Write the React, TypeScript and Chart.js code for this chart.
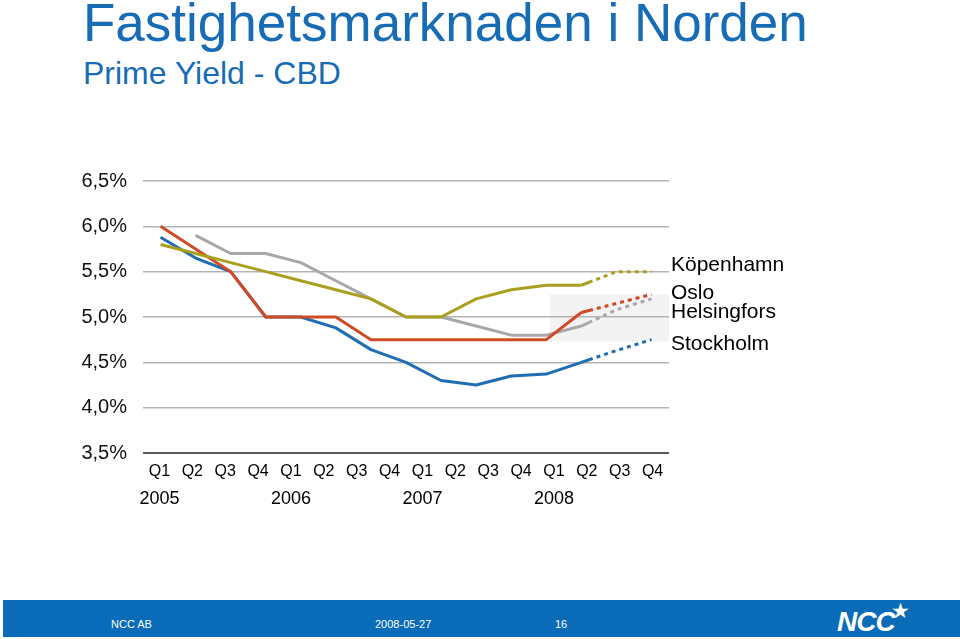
import React, { useEffect, useRef } from 'react';
import { Chart, registerables } from 'chart.js';

Chart.register(...registerables);

// ---- data ----
const periods = [
  'Q1 2005', 'Q2 2005', 'Q3 2005', 'Q4 2005',
  'Q1 2006', 'Q2 2006', 'Q3 2006', 'Q4 2006',
  'Q1 2007', 'Q2 2007', 'Q3 2007', 'Q4 2007',
  'Q1 2008', 'Q2 2008', 'Q3 2008',
];
const quarterLabels = [
  'Q1', 'Q2', 'Q3', 'Q4', 'Q1', 'Q2', 'Q3', 'Q4',
  'Q1', 'Q2', 'Q3', 'Q4', 'Q1', 'Q2', 'Q3', 'Q4',
];
const yearLabels = [
  '2005', '', '', '', '2006', '', '', '',
  '2007', '', '', '', '2008', '', '', '',
];
const seriesNames = ['Köpenhamn', 'Oslo', 'Helsingfors', 'Stockholm'];
const kopenhamn = [5.8, 5.7, 5.6, 5.5, 5.4, 5.3, 5.2, 5.0, 5.0, 5.2, 5.3, 5.35, 5.35, 5.5, 5.5];
const oslo = [6.0, 5.75, 5.5, 5.0, 5.0, 5.0, 4.75, 4.75, 4.75, 4.75, 4.75, 4.75, 5.05, 5.15, 5.25];
const helsingfors = [null, 5.9, 5.7, 5.7, 5.6, 5.4, 5.2, 5.0, 5.0, 4.9, 4.8, 4.8, 4.9, 5.08, 5.2];
const stockholm = [5.88, 5.65, 5.5, 5.0, 5.0, 4.88, 4.64, 4.5, 4.3, 4.25, 4.35, 4.37, 4.5, 4.63, 4.75];
const forecastFromIndex = 12;
const yMin = 3.5;
const yMax = 6.5;
const yStep = 0.5;

// ---- styles ----
const FONT = '"Liberation Sans", Arial, Helvetica, sans-serif';
const COLORS = ['#aa9f1f', '#cf4b26', '#a8a8a8', '#1f6db2'];
const LABEL_OFFSETS = [-6, -1, 13, 5];
const FORECAST_DASH = [12, 4, 4, 4, 4, 4, 4, 4, 4, 4, 4, 4, 4, 4, 4, 4, 4, 4];
const BLUE = '#176cb6';

const endLabels = {
  id: 'endLabels',
  afterDatasetsDraw(chart: any) {
    const { ctx, chartArea, scales } = chart;
    ctx.save();
    ctx.font = `21px ${FONT}`;
    ctx.fillStyle = '#000';
    ctx.textBaseline = 'middle';
    ctx.textAlign = 'left';
    chart.data.datasets.forEach((ds: any, i: number) => {
      const last = ds.data[ds.data.length - 1];
      const y = scales.y.getPixelForValue(last) + LABEL_OFFSETS[i];
      ctx.fillText(ds.label, chartArea.right + 2, y);
    });
    ctx.restore();
  },
};

const faintBox = {
  id: 'faintBox',
  beforeDraw(chart: any) {
    const { ctx, chartArea, scales } = chart;
    const x0 = scales.x.getPixelForValue(11.1);
    const y0 = scales.y.getPixelForValue(5.25);
    const y1 = scales.y.getPixelForValue(4.73);
    ctx.save();
    ctx.fillStyle = '#f3f3f3';
    ctx.fillRect(x0, y0, chartArea.right - x0, y1 - y0);
    ctx.restore();
  },
};

export default function App() {
  const ref = useRef<HTMLCanvasElement>(null);

  useEffect(() => {
    document.body.style.margin = '0';
    const series = [kopenhamn, oslo, helsingfors, stockholm];
    const chart = new Chart(ref.current as HTMLCanvasElement, {
      type: 'line',
      data: {
        labels: periods,
        datasets: series.map((d, i) => ({
          label: seriesNames[i],
          data: d,
          borderColor: COLORS[i],
          backgroundColor: COLORS[i],
          borderWidth: 3,
          pointRadius: 0,
          pointHoverRadius: 0,
          tension: 0,
          fill: false,
          borderCapStyle: 'butt',
          borderJoinStyle: 'round',
          xAxisID: 'x',
          yAxisID: 'y',
          segment: {
            borderDash: (ctx: any) => (ctx.p0DataIndex >= forecastFromIndex ? FORECAST_DASH : undefined),
          },
        })) as any,
      },
      options: {
        animation: false,
        responsive: false,
        maintainAspectRatio: false,
        devicePixelRatio: 1,
        layout: { padding: { top: 31, right: 131, bottom: 22, left: 0 } },
        plugins: {
          legend: { display: false },
          tooltip: { enabled: false },
        },
        scales: {
          x: {
            type: 'category',
            display: false,
            offset: true,
          },
          xq: {
            type: 'category',
            position: 'bottom',
            labels: quarterLabels,
            offset: true,
            weight: 0,
            grid: { display: false },
            border: { display: false },
            ticks: {
              autoSkip: false,
              maxRotation: 0,
              padding: 1,
              color: '#000',
              font: { family: FONT, size: 16, lineHeight: 1.2 },
            },
            afterFit: (s: any) => { s.height = 27; },
          },
          xy: {
            type: 'category',
            position: 'bottom',
            labels: yearLabels,
            offset: true,
            weight: 1,
            grid: { display: false },
            border: { display: false },
            ticks: {
              autoSkip: false,
              maxRotation: 0,
              padding: 0,
              color: '#000',
              font: { family: FONT, size: 18, lineHeight: 1.2 },
            },
            afterFit: (s: any) => { s.height = 28; },
          },
          y: {
            type: 'linear',
            min: yMin,
            max: yMax,
            border: { display: false },
            grid: {
              drawTicks: false,
              color: (c: any) => (c.tick && c.tick.value === yMin ? '#5a5a5a' : '#b4b4b4'),
              lineWidth: (c: any) => (c.tick && c.tick.value === yMin ? 2 : 1.5),
            },
            ticks: {
              stepSize: yStep,
              padding: 16,
              color: '#111',
              font: { family: FONT, size: 20 },
              callback: (v: any) => `${Number(v).toFixed(1).replace('.', ',')}%`,
            },
            afterFit: (s: any) => { s.width = 143; },
          },
        },
      } as any,
      plugins: [faintBox, endLabels],
    });
    return () => chart.destroy();
  }, []);

  return (
    <div
      style={{
        position: 'absolute',
        left: 0,
        top: 0,
        width: 960,
        height: 639,
        background: '#fff',
        overflow: 'hidden',
        fontFamily: FONT,
      }}
    >
      <div
        style={{
          position: 'absolute',
          left: 83,
          top: -4,
          fontSize: 53,
          lineHeight: '53px',
          color: BLUE,
          whiteSpace: 'nowrap',
        }}
      >
        Fastighetsmarknaden i Norden
      </div>
      <div
        style={{
          position: 'absolute',
          left: 83,
          top: 57,
          fontSize: 32,
          lineHeight: '32px',
          color: BLUE,
          whiteSpace: 'nowrap',
        }}
      >
        Prime Yield - CBD
      </div>
      <canvas
        ref={ref}
        width={800}
        height={380}
        style={{ position: 'absolute', left: 0, top: 150, width: 800, height: 380 }}
      />
      <div
        style={{
          position: 'absolute',
          left: 3,
          top: 600,
          width: 957,
          height: 37,
          background: '#0a6bb8',
          color: '#fff',
          fontSize: 11,
        }}
      >
        <span style={{ position: 'absolute', left: 108, top: 18, lineHeight: '13px' }}>NCC AB</span>
        <span style={{ position: 'absolute', left: 372, top: 18, lineHeight: '13px' }}>2008-05-27</span>
        <span style={{ position: 'absolute', left: 552, top: 18, lineHeight: '13px' }}>16</span>
        <span
          style={{
            position: 'absolute',
            left: 834,
            top: 7,
            fontSize: 28,
            lineHeight: '30px',
            fontWeight: 'bold',
            fontStyle: 'italic',
            letterSpacing: -1,
          }}
        >
          NCC
        </span>
        <span
          style={{
            position: 'absolute',
            left: 888,
            top: 1,
            fontSize: 21,
            lineHeight: '21px',
            fontFamily: '"DejaVu Sans", sans-serif',
          }}
        >
          ★
        </span>
      </div>
    </div>
  );
}
